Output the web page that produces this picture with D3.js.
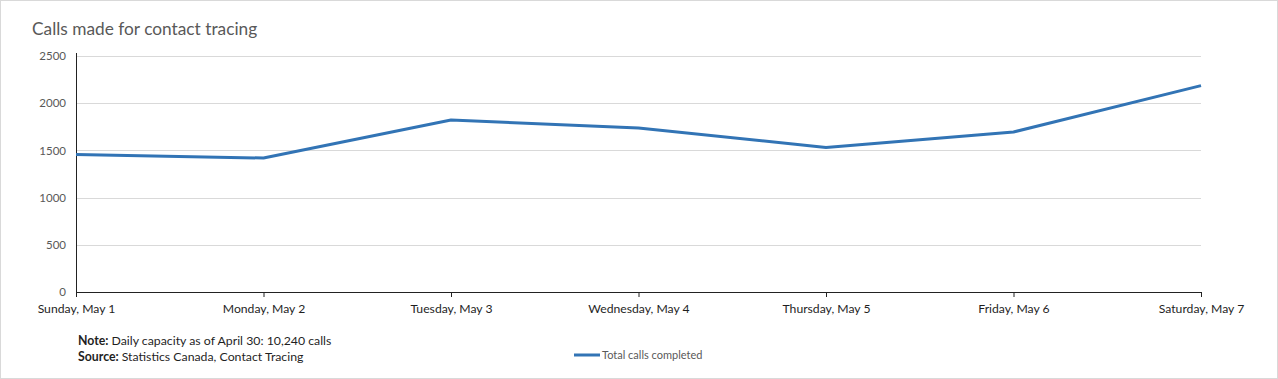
<!DOCTYPE html>
<html>
<head>
  <title>Calls made for contact tracing</title>
  <style>
    body { margin: 0; background: #fff; }
    svg { display: block; font-family: Lato, "Open Sans", sans-serif; }
  </style>
</head>
<body>
  <svg id="main" width="1278" height="379"></svg>

  <script src="https://cdn.jsdelivr.net/npm/d3@7/dist/d3.min.js"></script>
  <script>
    const categories = ['Sunday, May 1', 'Monday, May 2', 'Tuesday, May 3', 'Wednesday, May 4',
      'Thursday, May 5', 'Friday, May 6', 'Saturday, May 7']
    const callsCompleted = [1457, 1419, 1822, 1737, 1531, 1695, 2186]
    const yTicks = [0, 500, 1000, 1500, 2000, 2500]

    const svg = d3.select('#main')
    const width = +svg.attr('width')
    const height = +svg.attr('height')
    const margin = { top: 56, right: 77, bottom: 87, left: 76 }
    const innerWidth = width - margin.left - margin.right
    const innerHeight = height - margin.top - margin.bottom
    const lineColor = '#3274b5'

    // outer frame
    svg.append('rect')
      .attr('x', 0.5).attr('y', 0.5)
      .attr('width', width - 1).attr('height', height - 1)
      .attr('fill', '#fff').attr('stroke', '#d9d9d9')

    svg.append('text')
      .attr('x', 32).attr('y', 35)
      .attr('font-size', '17.3px')
      .attr('fill', '#595959')
      .text('Calls made for contact tracing')

    const chart = svg.append('g')
      .attr('transform', `translate(${margin.left},${margin.top})`)

    const xScale = d3.scalePoint()
      .domain(categories)
      .range([0, innerWidth])

    const yScale = d3.scaleLinear()
      .domain([0, 2500])
      .range([innerHeight, 0])

    // gridlines
    chart.append('g')
      .selectAll('line')
      .data(yTicks.filter(d => d > 0))
      .join('line')
      .attr('x1', 0).attr('x2', innerWidth)
      .attr('y1', d => Math.round(yScale(d)) + 0.5)
      .attr('y2', d => Math.round(yScale(d)) + 0.5)
      .attr('stroke', '#d9d9d9')

    const yAxis = d3.axisLeft(yScale).tickValues(yTicks).tickFormat(d3.format('d'))
      .tickSize(0).tickPadding(10)
    const yG = chart.append('g').call(yAxis)
    yG.select('.domain').remove()
    yG.append('line')
      .attr('x1', 0.5).attr('x2', 0.5)
      .attr('y1', -3).attr('y2', innerHeight)
      .attr('stroke', '#222')
    yG.selectAll('.tick text')
      .attr('font-size', '11.5px')
      .attr('font-family', 'Lato, sans-serif')
      .attr('fill', '#595959')

    const xAxis = d3.axisBottom(xScale).tickSize(5).tickSizeOuter(0).tickPadding(7)
    const xG = chart.append('g')
      .attr('transform', `translate(0,${innerHeight})`)
      .call(xAxis)
    xG.select('.domain').attr('stroke', '#222')
    xG.selectAll('.tick line').attr('stroke', '#222')
    xG.selectAll('.tick text')
      .attr('font-size', '12.2px')
      .attr('font-family', 'Lato, sans-serif')
      .attr('fill', '#1f1f1f')

    const line = d3.line()
      .x((d, i) => xScale(categories[i]))
      .y(d => yScale(d))

    chart.append('path')
      .datum(callsCompleted)
      .attr('fill', 'none')
      .attr('stroke', lineColor)
      .attr('stroke-width', 3)
      .attr('stroke-linejoin', 'round')
      .attr('d', line)

    // notes
    const notes = svg.append('g').attr('font-size', '12.3px').attr('fill', '#1f1f1f')
    const n1 = notes.append('text').attr('x', 78).attr('y', 345)
    n1.append('tspan').attr('font-weight', 'bold').text('Note: ')
    n1.append('tspan').text('Daily capacity as of April 30: 10,240 calls')
    const n2 = notes.append('text').attr('x', 78).attr('y', 361)
    n2.append('tspan').attr('font-weight', 'bold').text('Source: ')
    n2.append('tspan').text('Statistics Canada, Contact Tracing')

    // legend
    const legend = svg.append('g').attr('transform', 'translate(574,355)')
    legend.append('line')
      .attr('x1', 0).attr('x2', 26)
      .attr('stroke', lineColor).attr('stroke-width', 3)
    legend.append('text')
      .attr('x', 28).attr('y', 4)
      .attr('font-size', '11px')
      .attr('fill', '#595959')
      .text('Total calls completed')
  </script>
</body>
</html>
